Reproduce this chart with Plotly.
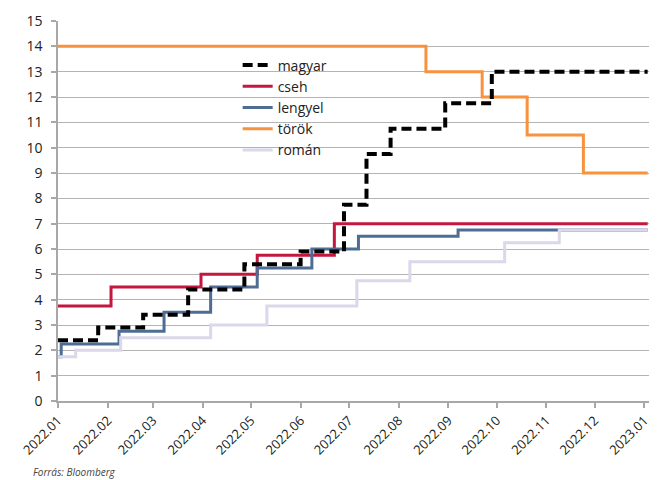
import plotly.graph_objects as go

# ---------------- data ----------------
magyar_dates = ['2022-01-01', '2022-01-26', '2022-02-23', '2022-03-23', '2022-04-27', '2022-06-01',
                '2022-06-28', '2022-07-12', '2022-07-27', '2022-08-30', '2022-09-28', '2023-01-03']
magyar_vals = [2.4, 2.9, 3.4, 4.4, 5.4, 5.9, 7.75, 9.75, 10.75, 11.75, 13.0, 13.0]

cseh_dates = ['2022-01-01', '2022-02-03', '2022-03-31', '2022-05-05', '2022-06-22', '2023-01-03']
cseh_vals = [3.75, 4.5, 5.0, 5.75, 7.0, 7.0]

lengyel_dates = ['2022-01-01', '2022-01-03', '2022-02-08', '2022-03-08', '2022-04-06', '2022-05-05',
                 '2022-06-08', '2022-07-07', '2022-09-07', '2023-01-03']
lengyel_vals = [1.75, 2.25, 2.75, 3.5, 4.5, 5.25, 6.0, 6.5, 6.75, 6.75]

torok_dates = ['2022-01-01', '2022-08-18', '2022-09-22', '2022-10-20', '2022-11-24', '2023-01-03']
torok_vals = [14.0, 13.0, 12.0, 10.5, 9.0, 9.0]

roman_dates = ['2022-01-01', '2022-01-12', '2022-02-09', '2022-04-06', '2022-05-11', '2022-07-06',
               '2022-08-08', '2022-10-06', '2022-11-09', '2023-01-03']
roman_vals = [1.75, 2.0, 2.5, 3.0, 3.75, 4.75, 5.5, 6.25, 6.75, 6.75]

tick_dates = ['2022-%02d-01' % m for m in range(1, 13)] + ['2023-01-01']
tick_labels = ['2022.%02d' % m for m in range(1, 13)] + ['2023.01']

y_ticks = list(range(0, 16))

# ---------------- figure ----------------
FONT = "Open Sans"
fig = go.Figure()

fig.add_trace(go.Scatter(x=cseh_dates, y=cseh_vals, name='cseh', mode='lines',
                         line=dict(color='#c4173f', width=3, shape='hv'), legendrank=2))
fig.add_trace(go.Scatter(x=lengyel_dates, y=lengyel_vals, name='lengyel', mode='lines',
                         line=dict(color='#4d6d95', width=3, shape='hv'), legendrank=3))
fig.add_trace(go.Scatter(x=torok_dates, y=torok_vals, name='török', mode='lines',
                         line=dict(color='#f7923e', width=3, shape='hv'), legendrank=4))
fig.add_trace(go.Scatter(x=roman_dates, y=roman_vals, name='román', mode='lines',
                         line=dict(color='#dcd7e9', width=3, shape='hv'), legendrank=5))
fig.add_trace(go.Scatter(x=magyar_dates, y=magyar_vals, name='magyar', mode='lines',
                         line=dict(color='#000000', width=4, shape='hv', dash='10px,5px'),
                         legendrank=1))

fig.update_layout(
    width=659, height=480,
    margin=dict(l=50, r=18, t=13, b=87, autoexpand=False),
    paper_bgcolor='white', plot_bgcolor='white',
    font=dict(family=FONT, color='#222222', size=13),
    showlegend=True,
    legend=dict(x=0.304, y=0.925, xanchor='left', yanchor='top',
                bgcolor='rgba(0,0,0,0)', font=dict(size=14, color='#222222'),
                tracegroupgap=0, itemwidth=30),
    xaxis=dict(type='date', range=['2022-01-01', '2023-01-03T20:00'], automargin=False,
               tickvals=tick_dates, ticktext=tick_labels, tickangle=-45,
               showgrid=False, showline=True, linecolor='#a8a8a8', linewidth=1.5,
               ticks='outside', ticklen=5, tickcolor='#a8a8a8', tickwidth=1.5,
               tickfont=dict(size=13, color='#222222'), zeroline=False),
    yaxis=dict(range=[0, 15], tickvals=y_ticks, showgrid=True, gridcolor='#b4b4b4', gridwidth=1.3,
               automargin=False,
               showline=True, linecolor='#a8a8a8', linewidth=1.5,
               ticks='outside', ticklen=5, tickcolor='#a8a8a8', tickwidth=1.5,
               tickfont=dict(size=14, color='#222222'), ticklabelstandoff=6, zeroline=False),
    annotations=[dict(text='<i>Forrás: Bloomberg</i>', xref='paper', yref='paper',
                      x=-0.045, y=-0.187, xanchor='left', yanchor='middle', showarrow=False,
                      font=dict(size=10, color='#444444', family=FONT))],
)

fig.write_html("out.html")
